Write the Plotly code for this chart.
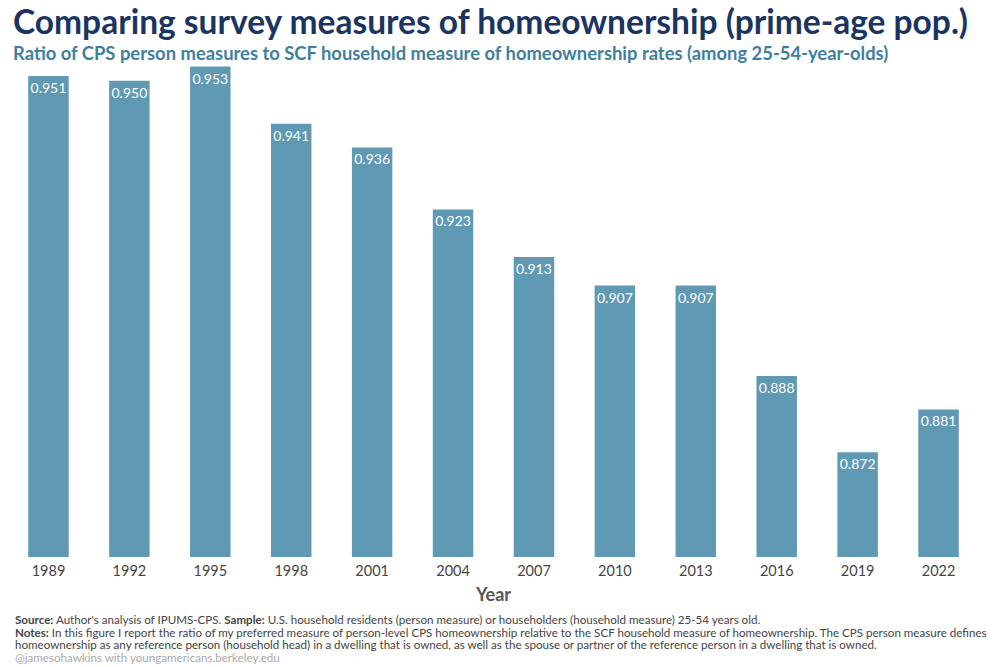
import plotly.graph_objects as go

years = ["1989", "1992", "1995", "1998", "2001", "2004", "2007", "2010", "2013", "2016", "2019", "2022"]
ratios = [0.951, 0.950, 0.953, 0.941, 0.936, 0.923, 0.913, 0.907, 0.907, 0.888, 0.872, 0.881]
labels = [f"{v:.3f}" for v in ratios]

title = "Comparing survey measures of homeownership (prime-age pop.)"
subtitle = "Ratio of CPS person measures to SCF household measure of homeownership rates (among 25-54-year-olds)"
footer = [
    "<b>Source:</b> Author's analysis of IPUMS-CPS. <b>Sample:</b> U.S. household residents (person measure) or householders (household measure) 25-54 years old.",
    "<b>Notes:</b> In this figure I report the ratio of my preferred measure of person-level CPS homeownership relative to the SCF household measure of homeownership. The CPS person measure defines",
    "homeownership as any reference person (household head) in a dwelling that is owned, as well as the spouse or partner of the reference person in a dwelling that is owned.",
]
credit = "@jamesohawkins with youngamericans.berkeley.edu"

FONT = "Lato, 'Open Sans', sans-serif"
BAR = "#5f99b4"

W, H = 1000, 667
ML, MR, MT, MB = 8, 21, 57, 110
PW, PH = W - ML - MR, H - MT - MB


def px(x):
    return (x - ML) / PW


def py(y):
    return (H - MB - y) / PH


fig = go.Figure()
fig.add_trace(go.Bar(
    x=years, y=ratios,
    marker=dict(color=BAR, line=dict(width=0)),
    text=labels, textposition="inside", insidetextanchor="end", textangle=0,
    textfont=dict(family=FONT, size=14, color="white"),
    constraintext="none", hoverinfo="skip",
))

fig.update_layout(
    width=W, height=H,
    margin=dict(l=ML, r=MR, t=MT, b=MB),
    paper_bgcolor="white", plot_bgcolor="white",
    bargap=0.5, showlegend=False,
    font=dict(family=FONT, color="#444"),
    xaxis=dict(
        type="category", showgrid=False, showline=False, zeroline=False,
        ticks="", ticklabelstandoff=3, tickfont=dict(family=FONT, size=14.5, color="#444"),
        title=dict(text="<b>Year</b>", font=dict(family=FONT, size=18, color="#555"), standoff=10),
    ),
    yaxis=dict(range=[0.85, 0.955], visible=False, fixedrange=True),
)

fig.add_annotation(text=f"<b>{title}</b>", x=px(11), y=py(21), xref="paper", yref="paper",
                   xanchor="left", yanchor="middle", showarrow=False,
                   font=dict(family=FONT, size=33.5, color="#1b3461"))
fig.add_annotation(text=f"<b>{subtitle}</b>", x=px(11), y=py(53), xref="paper", yref="paper",
                   xanchor="left", yanchor="middle", showarrow=False,
                   font=dict(family=FONT, size=18.4, color="#3f7f9e"))

ys = [619, 632, 644]
for line, yy in zip(footer, ys):
    fig.add_annotation(text=line, x=px(13), y=py(yy), xref="paper", yref="paper",
                       xanchor="left", yanchor="middle", showarrow=False,
                       font=dict(family=FONT, size=11.6, color="#444"))
fig.add_annotation(text=credit, x=px(13), y=py(657), xref="paper", yref="paper",
                   xanchor="left", yanchor="middle", showarrow=False,
                   font=dict(family=FONT, size=11.6, color="#aaa"))

fig.write_html("out.html", config={"displayModeBar": False},
               post_script="document.body.style.margin='0';")
